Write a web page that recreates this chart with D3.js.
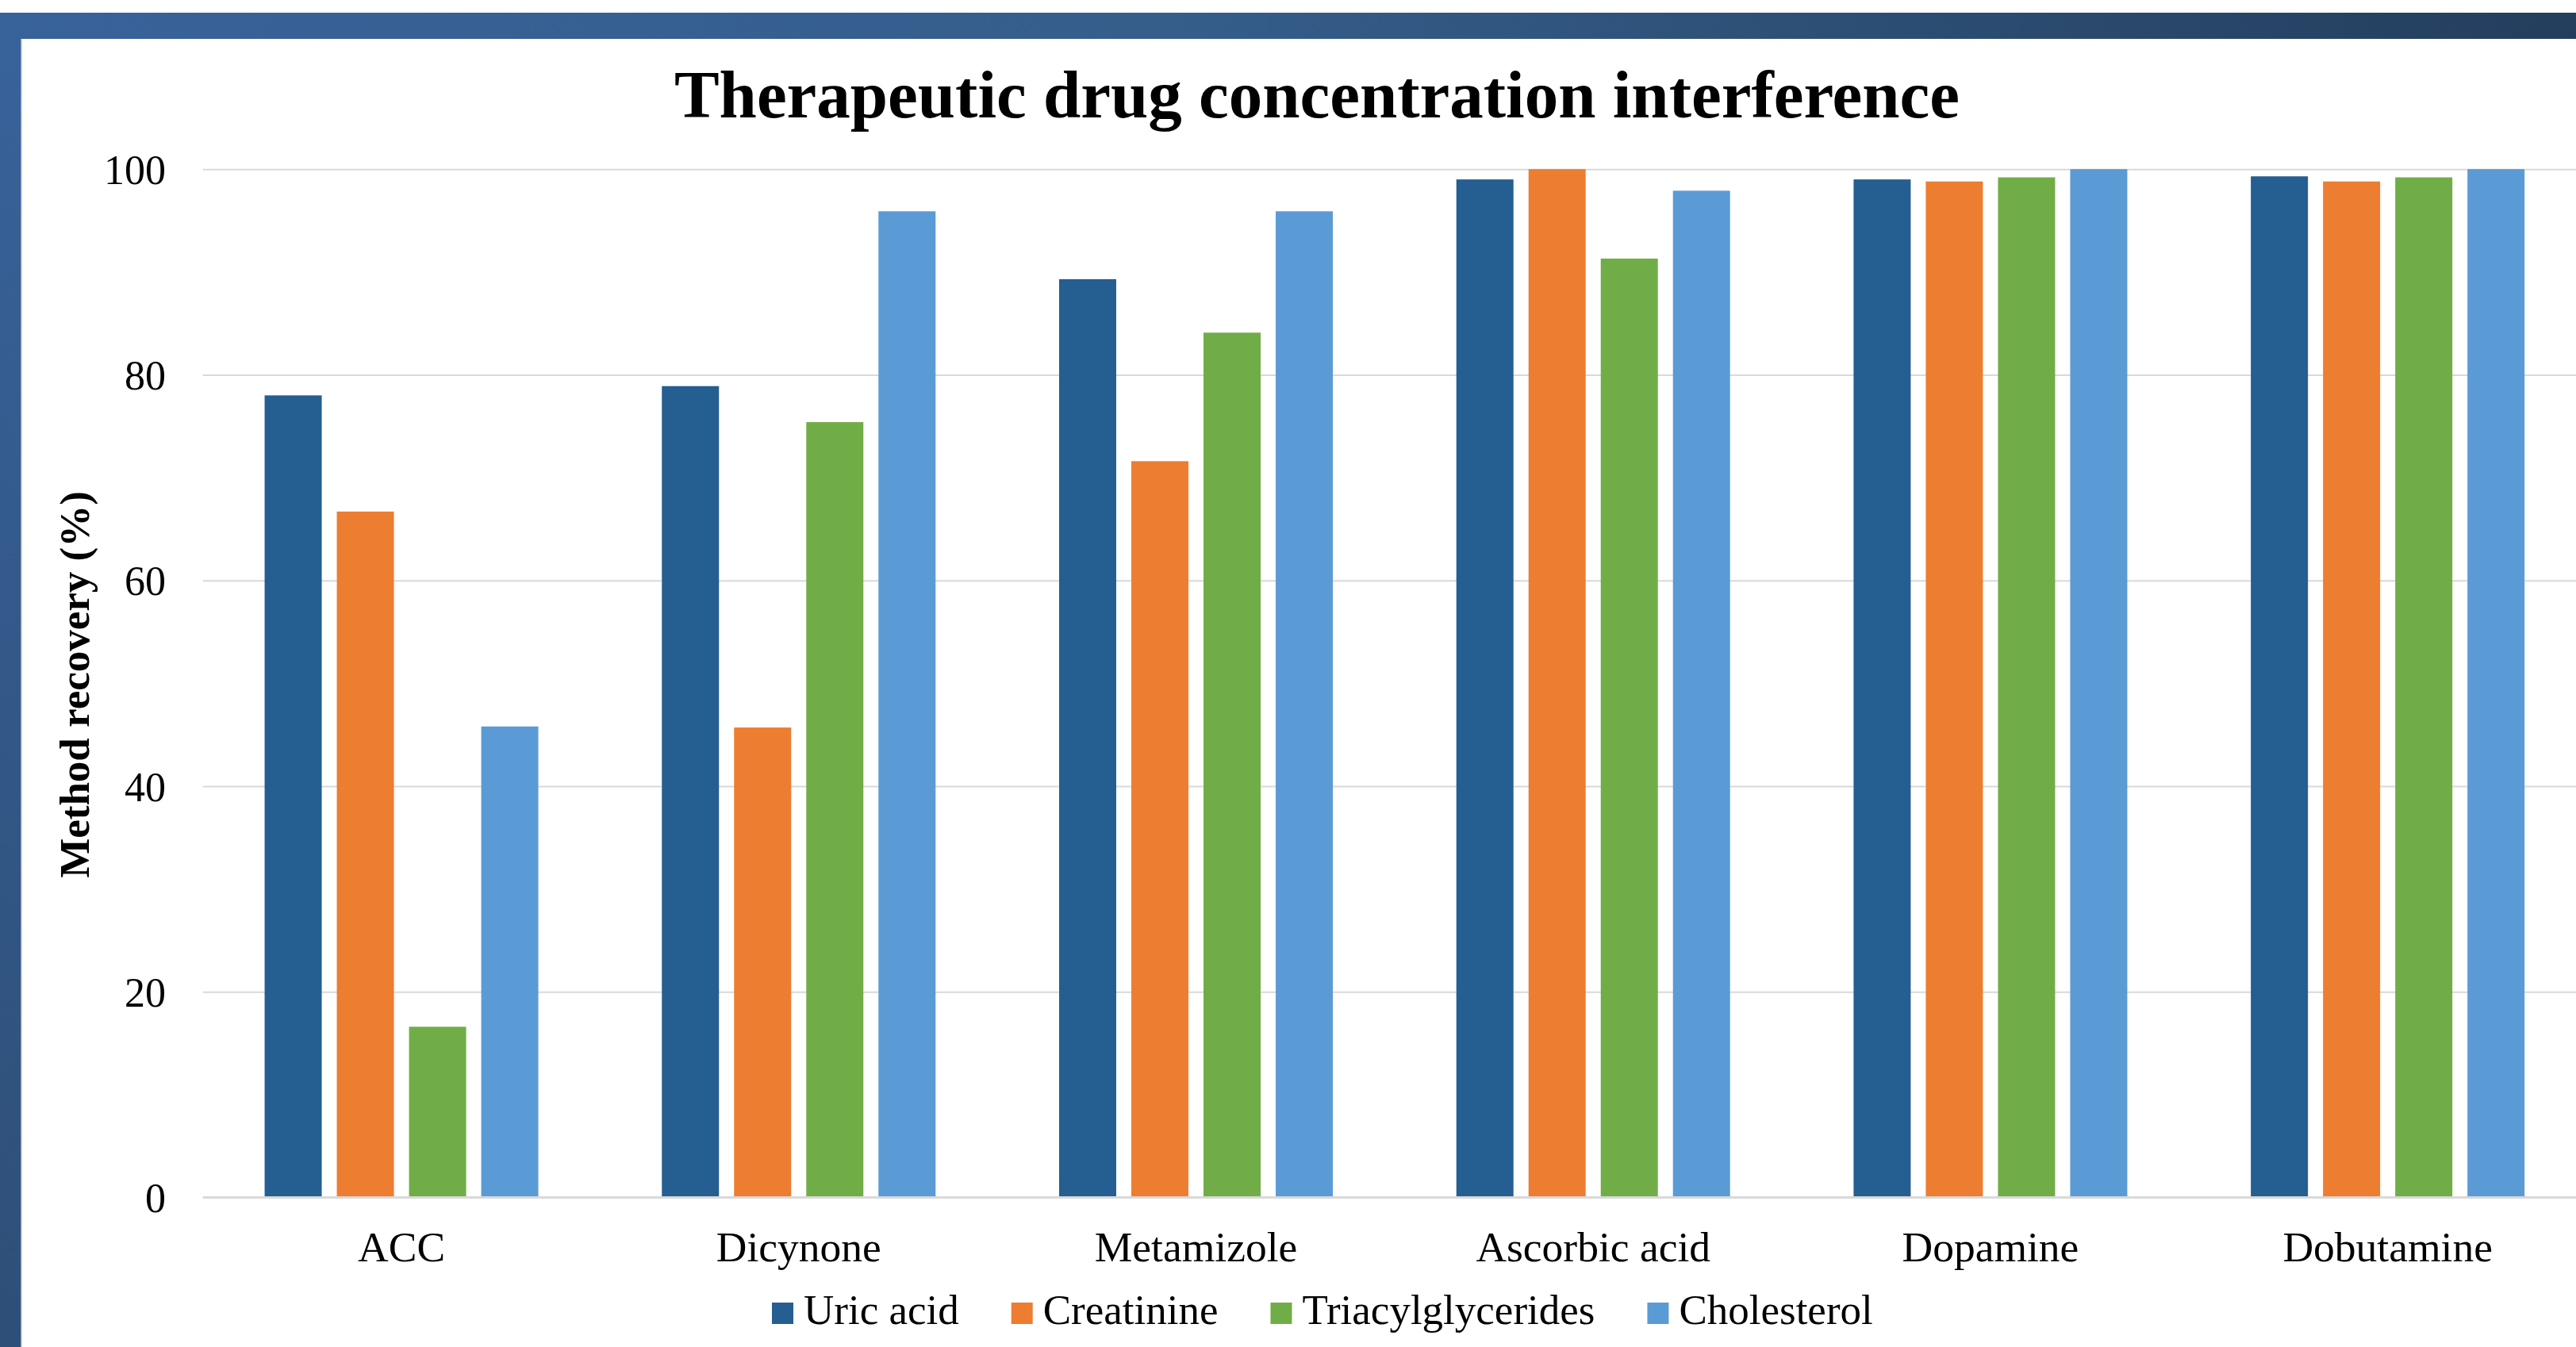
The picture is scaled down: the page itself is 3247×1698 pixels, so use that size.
<!DOCTYPE html>
<html>
<head>
<meta charset="utf-8">
<script src="https://cdn.jsdelivr.net/npm/d3@7"></script>
<style>
  html, body { margin: 0; padding: 0; background: #ffffff; }
  svg { display: block; }
</style>
</head>
<body>
<svg id="chart" width="3247" height="1698"></svg>
<script>
// ---------------- DATA ----------------
const categories = ["ACC", "Dicynone", "Metamizole", "Ascorbic acid", "Dopamine", "Dobutamine"];
const seriesNames = ["Uric acid", "Creatinine", "Triacylglycerides", "Cholesterol"];
const uricAcid = [78.0, 78.9, 89.3, 99.0, 99.0, 99.3];
const creatinine = [66.7, 45.7, 71.6, 100, 98.8, 98.8];
const triacylglycerides = [16.6, 75.4, 84.1, 91.3, 99.2, 99.2];
const cholesterol = [45.8, 95.9, 95.9, 97.9, 100, 100];
const yTicks = [0, 20, 40, 60, 80, 100];
const titleText = "Therapeutic drug concentration interference";
const yAxisTitle = "Method recovery (%)";

// ---------------- SETUP ----------------
const W = 3247, H = 1698;
const colors = ["#255E91", "#ED7D31", "#70AD47", "#5B9BD5"];
const seriesValues = [uricAcid, creatinine, triacylglycerides, cholesterol];
const FONT = "'Liberation Serif', 'Times New Roman', serif";

const svg = d3.select("#chart");
svg.append("rect").attr("x", 0).attr("y", 0).attr("width", W).attr("height", H).attr("fill", "#ffffff");

// frame: gradients
const defs = svg.append("defs");
const gH = defs.append("linearGradient").attr("id", "bandGrad").attr("x1", "0%").attr("x2", "100%").attr("y1", "0%").attr("y2", "0%");
gH.append("stop").attr("offset", "0%").attr("stop-color", "#38629A");
gH.append("stop").attr("offset", "45%").attr("stop-color", "#355E8B");
gH.append("stop").attr("offset", "100%").attr("stop-color", "#243E5D");
const gV = defs.append("linearGradient").attr("id", "sideGrad").attr("x1", "0%").attr("x2", "0%").attr("y1", "0%").attr("y2", "100%");
gV.append("stop").attr("offset", "0%").attr("stop-color", "#38629A");
gV.append("stop").attr("offset", "100%").attr("stop-color", "#2E4F77");

svg.append("rect").attr("x", 0).attr("y", 16).attr("width", W).attr("height", 33).attr("fill", "url(#bandGrad)");
svg.append("rect").attr("x", 0).attr("y", 49).attr("width", 26).attr("height", H - 49).attr("fill", "url(#sideGrad)");
svg.append("rect").attr("x", 26).attr("y", 49).attr("width", 1.5).attr("height", H - 49).attr("fill", "#9fb1c9");

// ---------------- SCALES ----------------
const x0 = d3.scaleBand().domain(categories).range([255.7, 3260.0]).paddingInner(0.273).paddingOuter(0.1365);
const x1 = d3.scaleBand().domain(seriesNames).range([0, x0.bandwidth()]).paddingInner(0.209).paddingOuter(0.1045);
const y = d3.scaleLinear().domain([0, 100]).range([1509.5, 213.2]);

// ---------------- GRID + Y AXIS ----------------
const gridG = svg.append("g").attr("transform", "translate(255.7,0)")
  .call(d3.axisLeft(y).tickValues(yTicks).tickSize(-(W - 255.7)).tickFormat(""));
gridG.select(".domain").remove();
gridG.selectAll(".tick line").attr("stroke", "#d9d9d9").attr("stroke-width", 2);

const yLab = svg.append("g").attr("transform", "translate(209,0)")
  .call(d3.axisLeft(y).tickValues(yTicks).tickSize(0).tickPadding(0).tickFormat(d3.format("d")));
yLab.select(".domain").remove();
yLab.selectAll("text").attr("font-family", FONT).attr("font-size", 52).attr("fill", "#000").attr("dy", "0.35em").attr("x", 0);

// ---------------- BARS ----------------
const groups = svg.append("g").selectAll("g").data(categories).join("g")
  .attr("transform", d => `translate(${x0(d)},0)`);
groups.selectAll("rect")
  .data((c, i) => seriesNames.map((s, k) => ({ s, k, v: seriesValues[k][i] })))
  .join("rect")
  .attr("x", d => x1(d.s))
  .attr("width", x1.bandwidth())
  .attr("y", d => y(d.v))
  .attr("height", d => y(0) - y(d.v))
  .attr("fill", d => colors[d.k]);

// baseline axis
const xAxisG = svg.append("g").attr("transform", `translate(0,${y(0)})`)
  .call(d3.axisBottom(x0).tickSize(0).tickPadding(0));
xAxisG.select(".domain").remove();
svg.append("line").attr("x1", 255.7).attr("x2", W).attr("y1", y(0)).attr("y2", y(0))
  .attr("stroke", "#d9d9d9").attr("stroke-width", 3);
xAxisG.selectAll("text").attr("font-family", FONT).attr("font-size", 53.5).attr("fill", "#000")
  .attr("y", 1590 - y(0)).attr("dy", 0);

// ---------------- TITLES ----------------
svg.append("text").attr("x", 1660).attr("y", 148).attr("text-anchor", "middle")
  .attr("font-family", FONT).attr("font-weight", "bold").attr("font-size", 85).attr("fill", "#000")
  .text(titleText);

svg.append("text").attr("transform", "translate(112,863) rotate(-90)").attr("text-anchor", "middle")
  .attr("font-family", FONT).attr("font-weight", "bold").attr("font-size", 53).attr("fill", "#000")
  .text(yAxisTitle);

// ---------------- LEGEND ----------------
const legend = svg.append("g");
let lx = 973;
seriesNames.forEach((name, k) => {
  legend.append("rect").attr("x", lx).attr("y", 1642).attr("width", 27).attr("height", 27).attr("fill", colors[k]);
  const t = legend.append("text").attr("x", lx + 40).attr("y", 1669)
    .attr("font-family", FONT).attr("font-size", 53).attr("fill", "#000").text(name);
  lx = lx + 40 + t.node().getComputedTextLength() + 66;
});
</script>
</body>
</html>
